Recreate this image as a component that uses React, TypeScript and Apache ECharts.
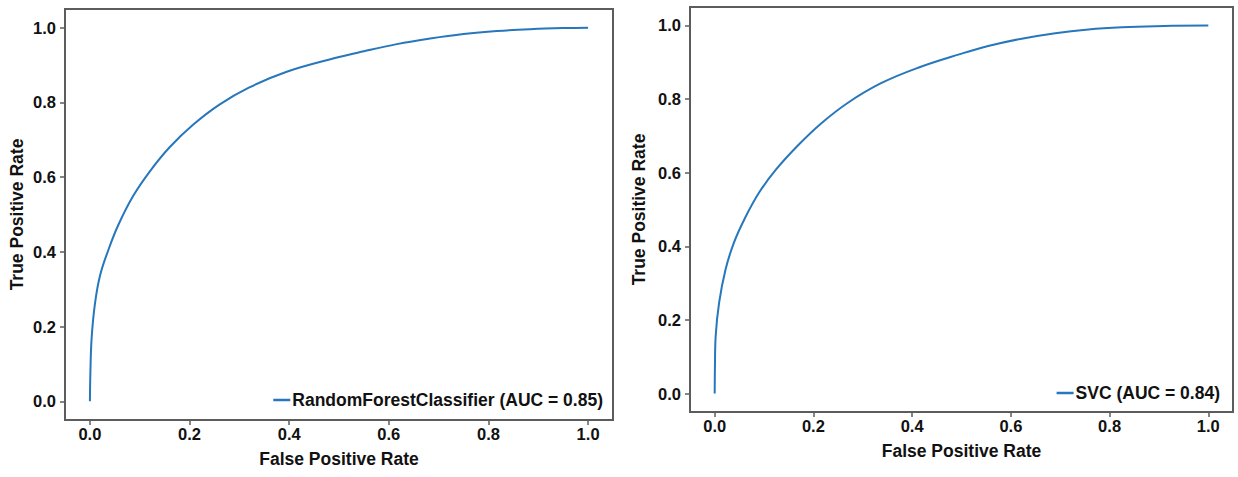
import React, { useEffect, useRef } from "react";
import * as echarts from "echarts";

const tickValues = [0, 0.2, 0.4, 0.6, 0.8, 1.0];

const rfName = "RandomForestClassifier (AUC = 0.85)";
const rfFpr = [0, 0.001, 0.0035, 0.01, 0.02, 0.037, 0.057, 0.087, 0.12, 0.16, 0.207, 0.26, 0.32, 0.395, 0.49, 0.55, 0.616, 0.683, 0.75, 0.817, 0.884, 0.95, 1.0];
const rfTpr = [0, 0.08, 0.17, 0.26, 0.335, 0.405, 0.472, 0.55, 0.615, 0.68, 0.74, 0.794, 0.84, 0.882, 0.918, 0.937, 0.956, 0.971, 0.983, 0.991, 0.996, 0.999, 1.0];

const svcName = "SVC (AUC = 0.84)";
const svcFpr = [0, 0.0005, 0.002, 0.009, 0.022, 0.039, 0.06, 0.09, 0.124, 0.168, 0.215, 0.27, 0.337, 0.412, 0.497, 0.554, 0.622, 0.69, 0.757, 0.825, 0.893, 1.0];
const svcTpr = [0, 0.07, 0.156, 0.247, 0.337, 0.41, 0.473, 0.546, 0.608, 0.673, 0.733, 0.79, 0.843, 0.885, 0.922, 0.944, 0.964, 0.979, 0.989, 0.995, 0.998, 1.0];

const FONT = "Liberation Sans";
const LINE_COLOR = "#2677bb";
const FRAME = "#5c5c5c";

function xAxisCfg(gridIndex: number) {
  return {
    type: "value",
    gridIndex,
    min: -0.05,
    max: 1.05,
    name: "False Positive Rate",
    nameLocation: "middle",
    nameGap: 30,
    nameTextStyle: { fontFamily: FONT, fontWeight: "bold", fontSize: 17.5, color: "#111" },
    axisLine: { show: true, onZero: false, lineStyle: { color: FRAME, width: 2 } },
    axisTick: { show: true, inside: false, length: 5, customValues: tickValues, lineStyle: { color: FRAME, width: 1.5 } },
    axisLabel: {
      customValues: tickValues,
      formatter: (v: number) => v.toFixed(1),
      fontFamily: FONT,
      fontWeight: "bold",
      fontSize: 16.5,
      color: "#111",
      margin: 5,
    },
    splitLine: { show: false },
  };
}

function yAxisCfg(gridIndex: number, gap: number) {
  return {
    type: "value",
    gridIndex,
    min: -0.05,
    max: 1.05,
    name: "True Positive Rate",
    nameLocation: "middle",
    nameGap: gap,
    nameRotate: 90,
    nameTextStyle: { fontFamily: FONT, fontWeight: "bold", fontSize: 17.5, color: "#111" },
    axisLine: { show: true, onZero: false, lineStyle: { color: FRAME, width: 2 } },
    axisTick: { show: true, inside: false, length: 5, customValues: tickValues, lineStyle: { color: FRAME, width: 1.5 } },
    axisLabel: {
      customValues: tickValues,
      formatter: (v: number) => v.toFixed(1),
      fontFamily: FONT,
      fontWeight: "bold",
      fontSize: 16.5,
      color: "#111",
      margin: 9,
    },
    splitLine: { show: false },
  };
}

function legendCfg(name: string, right: number, top: number) {
  return {
    data: [name],
    right,
    top,
    icon: "rect",
    itemWidth: 17,
    itemHeight: 2.5,
    itemGap: 0,
    textStyle: { fontFamily: FONT, fontWeight: "bold", fontSize: 17.5, color: "#111", padding: [0, 0, 0, -3] },
    selectedMode: false,
  };
}

export default function App() {
  const ref = useRef<HTMLDivElement>(null);
  useEffect(() => {
    if (!ref.current) return;
    const chart = echarts.init(ref.current, undefined, { renderer: "svg" });
    const rfData = rfFpr.map((x, i) => [x, rfTpr[i]]);
    const svcData = svcFpr.map((x, i) => [x, svcTpr[i]]);
    chart.setOption({
      animation: false,
      backgroundColor: "#fff",
      grid: [
        { left: 65, top: 9, width: 548, height: 411, show: true, borderColor: FRAME, borderWidth: 2, containLabel: false },
        { left: 690, top: 7, width: 543, height: 405, show: true, borderColor: FRAME, borderWidth: 2, containLabel: false },
      ],
      xAxis: [xAxisCfg(0), xAxisCfg(1)],
      yAxis: [yAxisCfg(0, 39), yAxisCfg(1, 42)],
      legend: [legendCfg(rfName, 630, 386), legendCfg(svcName, 13, 379)],
      series: [
        {
          name: rfName,
          type: "line",
          xAxisIndex: 0,
          yAxisIndex: 0,
          data: rfData,
          showSymbol: false,
          symbol: "none",
          smooth: 0.4,
          color: LINE_COLOR,
          lineStyle: { color: LINE_COLOR, width: 2 },
        },
        {
          name: svcName,
          type: "line",
          xAxisIndex: 1,
          yAxisIndex: 1,
          data: svcData,
          showSymbol: false,
          symbol: "none",
          smooth: 0.4,
          color: LINE_COLOR,
          lineStyle: { color: LINE_COLOR, width: 2 },
        },
      ],
    });
    return () => chart.dispose();
  }, []);
  return (
    <div
      ref={ref}
      style={{ position: "fixed", left: 0, top: 0, width: 1238, height: 477, background: "#fff" }}
    />
  );
}
